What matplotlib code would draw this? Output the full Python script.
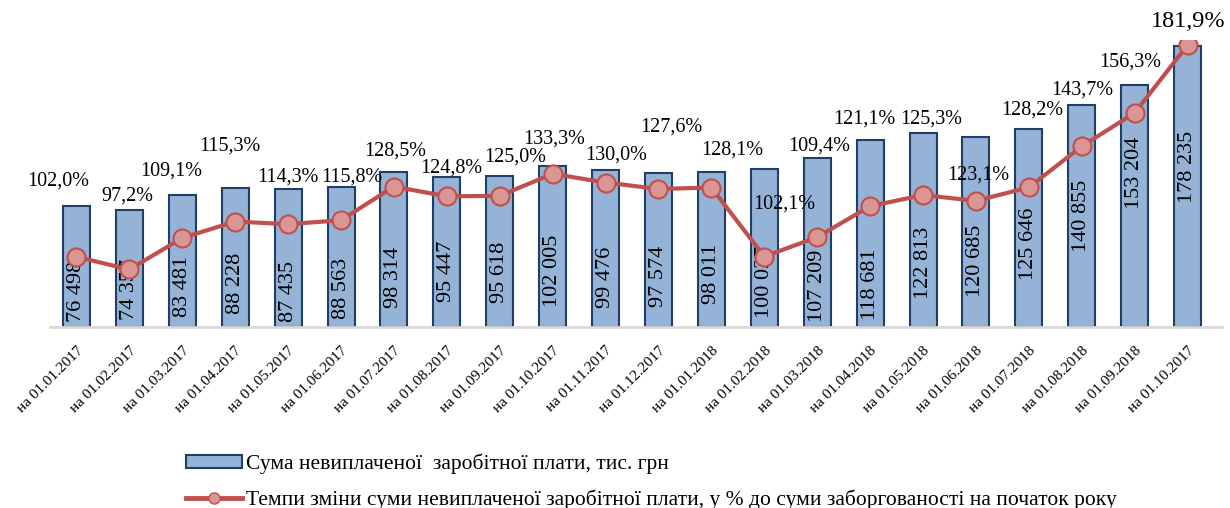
import numpy as np
import matplotlib
matplotlib.use('Agg')
import matplotlib.pyplot as plt
from matplotlib.patches import Patch
from matplotlib.lines import Line2D

plt.rcParams['font.family'] = ['Liberation Serif', 'DejaVu Serif']

# дати
dates = ['на 01.01.2017', 'на 01.02.2017', 'на 01.03.2017', 'на 01.04.2017', 'на 01.05.2017',
         'на 01.06.2017', 'на 01.07.2017', 'на 01.08.2017', 'на 01.09.2017', 'на 01.10.2017',
         'на 01.11.2017', 'на 01.12.2017', 'на 01.01.2018', 'на 01.02.2018', 'на 01.03.2018',
         'на 01.04.2018', 'на 01.05.2018', 'на 01.06.2018', 'на 01.07.2018', 'на 01.08.2018',
         'на 01.09.2018', 'на 01.10.2017']
# сума невиплаченої заробітної плати, тис. грн
debt = [76498, 74357, 83481, 88228, 87435, 88563, 98314, 95447, 95618, 102005, 99476,
        97574, 98011, 100027, 107209, 118681, 122813, 120685, 125646, 140855, 153204, 178235]
# темпи зміни, %
rate = [102.0, 97.2, 109.1, 115.3, 114.3, 115.8, 128.5, 124.8, 125.0, 133.3, 130.0,
        127.6, 128.1, 102.1, 109.4, 121.1, 125.3, 123.1, 128.2, 143.7, 156.3, 181.9]

label_bar = 'Сума невиплаченої  заробітної плати, тис. грн'
label_line = 'Темпи зміни суми невиплаченої заробітної плати, у % до суми заборгованості на початок року'

# розміщення підписів (пікселі відносно верху стовпця)
pct_offsets = [(-18, 25), (-2, 14), (-11, 24), (-5, 42), (0, 12), (11, 10), (1, 21), (4, 8),
               (15, 19), (1, 27), (11, 15), (13, 46), (21, 22), (20, -35), (2, 12), (-6, 21),
               (8, 14), (2, -38), (3, 19), (0, 15), (-4, 23), (1, 24)]
# центр підпису значення у стовпці (одиниці осі)
val_pos = [22500, 24100, 26000, 27900, 22800, 24700, 31700, 35200, 34900, 35500, 31700,
           32300, 33600, 28500, 26000, 27300, 40600, 41800, 52600, 70400, 97600, 101400]

bar_color = '#95B3D7'
bar_edge = '#1F3F66'
line_color = '#C0504D'
marker_face = '#D99694'

W, H = 1230, 508
fig = plt.figure(figsize=(W / 100, H / 100), dpi=100)
ax = fig.add_axes([50 / W, 1 - 327 / H, (1222 - 50) / W, 287 / H])
x = np.arange(len(dates))

ax.bar(x, debt, width=0.51, color=bar_color, edgecolor=bar_edge, linewidth=1.5, zorder=2)
ax.set_ylim(0, 182035)
ax.set_xlim(-0.5, 21.65)
for i, v in enumerate(debt):
    s = f'{v:,}'.replace(',', ' ')
    ax.text(i, val_pos[i], s, rotation=90, ha='center', va='center', fontsize=16, zorder=5)

for sp in ['top', 'left', 'right']:
    ax.spines[sp].set_visible(False)
ax.spines['bottom'].set_color('#D9D9D9')
ax.spines['bottom'].set_linewidth(2)
ax.set_yticks([])
ax.set_xticks(x)
ax.set_xticklabels(dates, rotation=45, ha='right', rotation_mode='anchor', fontsize=11)
ax.tick_params(axis='x', length=0, pad=12)

ax2 = ax.twinx()
ax2.set_ylim(75.5, 183.8)
ax2.plot(x, rate, color=line_color, linewidth=3, marker='o', markersize=13,
         markerfacecolor=marker_face, markeredgecolor=line_color, markeredgewidth=1.5, zorder=3)
ax2.set_yticks([])
for sp in ax2.spines.values():
    sp.set_visible(False)

for i, v in enumerate(rate):
    s = f'{v:.1f}%'.replace('.', ',')
    dx, dy = pct_offsets[i]
    fs = 17.5 if i == len(rate) - 1 else 14.5
    ax.annotate(s, xy=(i, debt[i]), xytext=(dx, dy), textcoords='offset pixels',
                ha='center', va='center', fontsize=fs, zorder=6, annotation_clip=False)

handles = [Patch(facecolor=bar_color, edgecolor=bar_edge, linewidth=1.5),
           Line2D([0], [0], color=line_color, linewidth=3.5, marker='o', markersize=8,
                  markerfacecolor=marker_face, markeredgecolor=line_color)]
fig.legend(handles, [label_bar, label_line], loc='upper left',
           bbox_to_anchor=(186 / W, 1 - 454 / H), frameon=False, fontsize=15.5,
           handlelength=2.6, handleheight=0.55, handletextpad=0.2, labelspacing=0.7,
           borderpad=0, borderaxespad=0)

fig.savefig('out.png', dpi=100)
